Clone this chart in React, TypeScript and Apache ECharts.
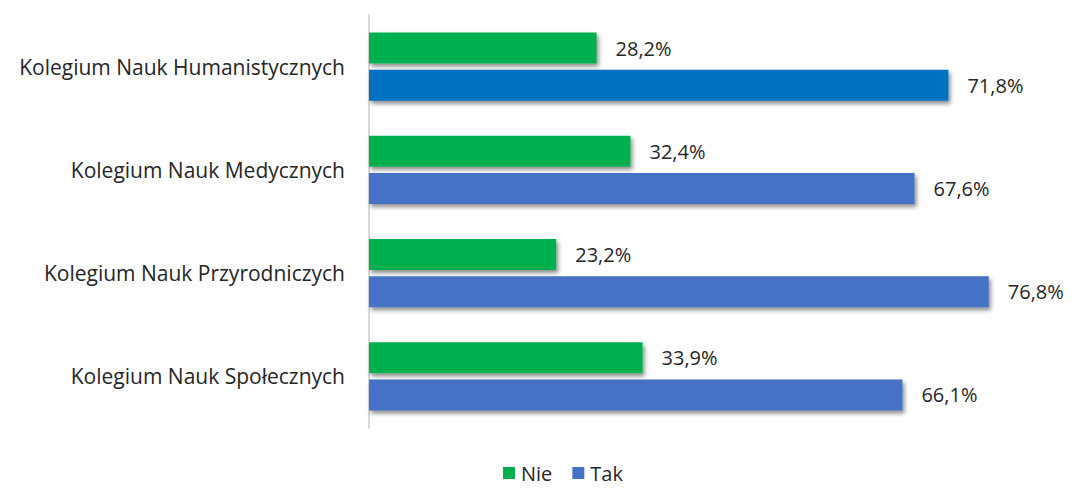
import React, { useEffect, useRef } from "react";
import * as echarts from "echarts";

const categories = [
  "Kolegium Nauk Humanistycznych",
  "Kolegium Nauk Medycznych",
  "Kolegium Nauk Przyrodniczych",
  "Kolegium Nauk Społecznych",
];
const nieValues = [28.2, 32.4, 23.2, 33.9];
const takValues = [71.8, 67.6, 76.8, 66.1];
const takColors = ["#0070C0", "#4472C4", "#4472C4", "#4472C4"];

const FONT = "Open Sans";

export default function App() {
  const ref = useRef<HTMLDivElement>(null);
  useEffect(() => {
    document.body.style.margin = "0";
    if (!ref.current) return;
    const chart = echarts.init(ref.current, null, { renderer: "svg" });
    const fmt = (p: any) => String(p.value.toFixed ? p.value.toFixed(1) : p.value).replace(".", ",") + "%";
    const shadow = {
      shadowColor: "rgba(0,0,0,0.45)",
      shadowBlur: 4,
      shadowOffsetX: 2,
      shadowOffsetY: 3,
    };
    const labelStyle = {
      show: true,
      position: "right",
      distance: 19,
      formatter: fmt,
      fontFamily: FONT,
      fontSize: 20,
      color: "#262626",
    };
    chart.setOption({
      animation: false,
      grid: { left: 369, top: 15, width: 645.6, height: 413, containLabel: false },
      legend: {
        top: 463,
        left: 503,
        padding: 0,
        itemWidth: 12,
        itemHeight: 12,
        itemGap: 20,
        icon: "rect",
        textStyle: { fontFamily: FONT, fontSize: 20, color: "#262626", padding: [0, 0, 0, 1] },
        data: [
          { name: "Nie", itemStyle: { color: "#00B050" } },
          { name: "Tak", itemStyle: { color: "#4472C4" } },
        ],
      },
      xAxis: {
        type: "value",
        min: 0,
        max: 80,
        show: false,
        splitLine: { show: false },
      },
      yAxis: {
        type: "category",
        inverse: true,
        data: categories,
        axisLine: { show: true, lineStyle: { color: "#D9D9D9", width: 2 } },
        axisTick: { show: false },
        axisLabel: {
          fontFamily: FONT,
          fontSize: 21,
          color: "#262626",
          margin: 24,
        },
      },
      series: [
        {
          name: "Nie",
          type: "bar",
          data: nieValues,
          barGap: "20%",
          barCategoryGap: "34%",
          itemStyle: { color: "#00B050", ...shadow },
          label: labelStyle,
        },
        {
          name: "Tak",
          type: "bar",
          data: takValues.map((v, i) => ({ value: v, itemStyle: { color: takColors[i] } })),
          itemStyle: { color: "#4472C4", ...shadow },
          label: labelStyle,
        },
      ],
    });
    return () => chart.dispose();
  }, []);
  return <div ref={ref} style={{ width: 1075, height: 488 }} />;
}
